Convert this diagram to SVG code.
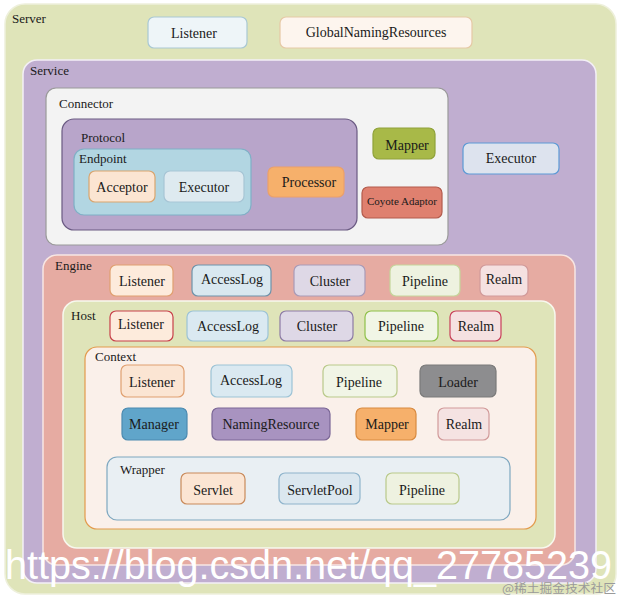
<svg xmlns="http://www.w3.org/2000/svg" width="622" height="600" viewBox="0 0 622 600">
<style>
text{font-family:'Liberation Serif','Times New Roman',serif;fill:#1a1a1a;}
.t{font-size:14px;text-anchor:middle;}
.lbl{font-size:13px;}
.c{stroke-width:1.5;}
.n{stroke-width:1.2;}
</style>
<rect width="622" height="600" fill="#ffffff"/>
<g font-family="'Liberation Serif', 'Times New Roman', serif">
<g id="server">
<rect x="5" y="4" width="611" height="590" rx="20" fill="#dfe4b9" stroke="#eef0dc" class="c"/>
<text x="12" y="23" class="lbl">Server</text>
</g>
<g id="server-listener">
<rect x="148" y="17" width="99" height="31" rx="6" fill="#eef5f8" stroke="#a9c8d4" class="n"/>
<text x="194" y="38" class="t">Listener</text>
</g>
<g id="global-naming">
<rect x="280" y="17" width="192" height="31" rx="6" fill="#fdf5ee" stroke="#e6c9a6" class="n"/>
<text x="376" y="37" class="t">GlobalNamingResources</text>
</g>
<g id="service">
<rect x="23" y="60" width="573" height="523" rx="14" fill="#c0aed0" stroke="#f3eff6" class="c"/>
<text x="30" y="75" class="lbl">Service</text>
</g>
<g id="connector">
<rect x="46" y="88" width="402" height="157" rx="10" fill="#f3f3f3" stroke="#9a9a9a" class="n"/>
<text x="59" y="108" class="lbl">Connector</text>
</g>
<g id="protocol">
<rect x="62" y="119" width="295" height="111" rx="12" fill="#b8a5ca" stroke="#6a5a82" class="n"/>
<text x="81" y="142" class="lbl">Protocol</text>
</g>
<g id="endpoint">
<rect x="74" y="149" width="177" height="66" rx="10" fill="#b2d6e2" stroke="#7fb0c6" class="n"/>
<text x="79" y="163" class="lbl">Endpoint</text>
</g>
<g id="acceptor">
<rect x="89" y="171" width="66" height="31" rx="6" fill="#fbe5d2" stroke="#d9a56e" class="n"/>
<text x="122" y="192" class="t">Acceptor</text>
</g>
<g id="endpoint-executor">
<rect x="164" y="171" width="80" height="31" rx="6" fill="#deeaf0" stroke="#a7c5d5" class="n"/>
<text x="204" y="192" class="t">Executor</text>
</g>
<g id="processor">
<rect x="268" y="167" width="76" height="30" rx="6" fill="#f6b06b" stroke="#eba06a" class="n"/>
<text x="309" y="187" class="t">Processor</text>
</g>
<g id="connector-mapper">
<rect x="373" y="128" width="62" height="31" rx="6" fill="#a8b948" stroke="#8fa23a" class="n"/>
<text x="407" y="150" class="t">Mapper</text>
</g>
<g id="coyote-adaptor">
<rect x="362" y="187" width="80" height="31" rx="6" fill="#df806f" stroke="#b35b4c" class="n"/>
<text x="402" y="205" class="t" style="font-size:11px">Coyote Adaptor</text>
</g>
<g id="service-executor">
<rect x="463" y="143" width="96" height="31" rx="6" fill="#dde3ee" stroke="#5c9ad6" class="n"/>
<text x="511" y="163" class="t">Executor</text>
</g>
<g id="engine">
<rect x="43" y="255" width="532" height="310" rx="14" fill="#e6aba2" stroke="#f7e6e3" class="c"/>
<text x="55" y="270" class="lbl">Engine</text>
</g>
<g id="engine-listener">
<rect x="110" y="265" width="63" height="31" rx="6" fill="#fdebdc" stroke="#e0a070" class="n"/>
<text x="142" y="286" class="t">Listener</text>
</g>
<g id="engine-accesslog">
<rect x="192" y="265" width="79" height="31" rx="6" fill="#d9e8f0" stroke="#6d93ab" class="n"/>
<text x="232" y="284" class="t">AccessLog</text>
</g>
<g id="engine-cluster">
<rect x="294" y="265" width="71" height="31" rx="6" fill="#ded8e6" stroke="#a89bb8" class="n"/>
<text x="330" y="286" class="t">Cluster</text>
</g>
<g id="engine-pipeline">
<rect x="390" y="265" width="70" height="31" rx="6" fill="#eef2e0" stroke="#c5d59a" class="n"/>
<text x="425" y="286" class="t">Pipeline</text>
</g>
<g id="engine-realm">
<rect x="480" y="265" width="48" height="31" rx="6" fill="#f5e1e1" stroke="#d19a9a" class="n"/>
<text x="504" y="284" class="t">Realm</text>
</g>
<g id="host">
<rect x="63" y="301" width="492" height="247" rx="14" fill="#dfe4b9" stroke="#f7f8ee" class="c"/>
<text x="71" y="320" class="lbl">Host</text>
</g>
<g id="host-listener">
<rect x="110" y="311" width="63" height="30" rx="6" fill="#fdebdc" stroke="#c8404a" class="n"/>
<text x="141" y="329" class="t">Listener</text>
</g>
<g id="host-accesslog">
<rect x="187" y="311" width="81" height="30" rx="6" fill="#dae9f1" stroke="#9cc3d6" class="n"/>
<text x="228" y="331" class="t">AccessLog</text>
</g>
<g id="host-cluster">
<rect x="280" y="311" width="73" height="30" rx="6" fill="#ded8e6" stroke="#8d7ba5" class="n"/>
<text x="317" y="331" class="t">Cluster</text>
</g>
<g id="host-pipeline">
<rect x="365" y="311" width="73" height="30" rx="6" fill="#f1f5e6" stroke="#8fc04a" class="n"/>
<text x="401" y="331" class="t">Pipeline</text>
</g>
<g id="host-realm">
<rect x="450" y="311" width="51" height="30" rx="6" fill="#f5e1e1" stroke="#c9405a" class="n"/>
<text x="476" y="331" class="t">Realm</text>
</g>
<g id="context">
<rect x="85" y="347" width="451" height="182" rx="12" fill="#faf0ea" stroke="#e39a4c" class="n"/>
<text x="95" y="361" class="lbl">Context</text>
</g>
<g id="context-listener">
<rect x="121" y="365" width="63" height="32" rx="6" fill="#fbe5d3" stroke="#e0a070" class="n"/>
<text x="152" y="387" class="t">Listener</text>
</g>
<g id="context-accesslog">
<rect x="211" y="365" width="81" height="32" rx="6" fill="#dae9f1" stroke="#9cc3d6" class="n"/>
<text x="251" y="385" class="t">AccessLog</text>
</g>
<g id="context-pipeline">
<rect x="323" y="365" width="74" height="32" rx="6" fill="#f1f5e6" stroke="#b9c98a" class="n"/>
<text x="359" y="387" class="t">Pipeline</text>
</g>
<g id="loader">
<rect x="420" y="365" width="76" height="32" rx="6" fill="#8d8d8f" stroke="#7a7a7a" class="n"/>
<text x="458" y="387" class="t">Loader</text>
</g>
<g id="manager">
<rect x="122" y="408" width="65" height="32" rx="6" fill="#60a5ca" stroke="#4b8ab0" class="n"/>
<text x="154" y="429" class="t">Manager</text>
</g>
<g id="naming-resource">
<rect x="212" y="408" width="118" height="32" rx="6" fill="#a893c0" stroke="#7a6696" class="n"/>
<text x="271" y="429" class="t">NamingResource</text>
</g>
<g id="context-mapper">
<rect x="356" y="408" width="60" height="32" rx="6" fill="#f6b06b" stroke="#d88a40" class="n"/>
<text x="387" y="429" class="t">Mapper</text>
</g>
<g id="context-realm">
<rect x="438" y="408" width="51" height="32" rx="6" fill="#f5e3e2" stroke="#d19a9a" class="n"/>
<text x="464" y="429" class="t">Realm</text>
</g>
<g id="wrapper">
<rect x="107" y="457" width="403" height="63" rx="10" fill="#e9eff3" stroke="#7fa8c0" class="n"/>
<text x="120" y="474" class="lbl">Wrapper</text>
</g>
<g id="servlet">
<rect x="181" y="473" width="64" height="31" rx="6" fill="#fbe5d3" stroke="#c98a5a" class="n"/>
<text x="213" y="495" class="t">Servlet</text>
</g>
<g id="servlet-pool">
<rect x="279" y="473" width="81" height="31" rx="6" fill="#dbe7ef" stroke="#8fb4cc" class="n"/>
<text x="320" y="495" class="t">ServletPool</text>
</g>
<g id="wrapper-pipeline">
<rect x="386" y="473" width="73" height="31" rx="6" fill="#eef2e0" stroke="#b9c98a" class="n"/>
<text x="422" y="495" class="t">Pipeline</text>
</g>
</g>
<g id="connectors"></g>
<g id="watermark">
<text x="5" y="579" textLength="607" lengthAdjust="spacingAndGlyphs" style="font-family:'Liberation Sans',Arial,sans-serif;font-size:40px;fill:#ffffff">https://blog.csdn.net/qq_27785239</text>
<text x="502" y="593" textLength="114" lengthAdjust="spacingAndGlyphs" style="font-family:'Noto Sans CJK SC','Liberation Sans',sans-serif;font-size:12px;fill:#9a9a9a">@稀土掘金技术社区</text>
</g>
</svg>
